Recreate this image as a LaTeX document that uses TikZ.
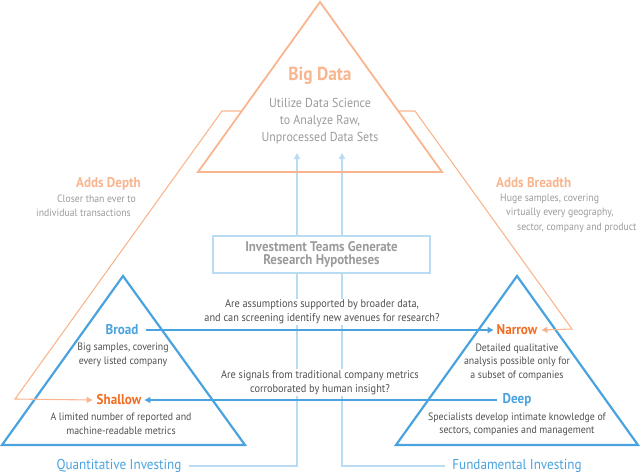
\documentclass[tikz,border=0pt]{standalone}
\usepackage{fontspec}
\setmainfont{PT Sans}[FakeStretch=0.92]
\usepackage{tikz}
\usetikzlibrary{arrows.meta}
\usepackage{xcolor}
\definecolor{peach}{HTML}{F9B58E}
\definecolor{hotorange}{HTML}{F26C22}
\definecolor{midblue}{HTML}{4AA3DF}
\definecolor{paleblue}{HTML}{B9DCF2}
\definecolor{softgray}{HTML}{9B9B9B}
\definecolor{darkgray}{HTML}{505050}

\begin{document}
\begin{tikzpicture}[x=1pt,y=-1pt,line join=miter,
  tip/.style={-{Triangle[length=6pt,width=6pt]}},
  title/.style={font=\fontsize{14.2}{16}\selectfont\bfseries,inner sep=1pt},
  desc/.style={font=\fontsize{10.7}{13.5}\selectfont,text=darkgray,align=center,inner sep=1pt},
  side/.style={font=\fontsize{10.6}{14}\selectfont,text=softgray,inner sep=0pt},
  question/.style={font=\fontsize{11.2}{14}\selectfont,text=darkgray,align=center,fill=white,inner sep=1pt}]
\useasboundingbox (0,0) rectangle (640,475);
% pale blue feed lines
\coordinate (qcorner) at (297,466);
\coordinate (qtip) at (297,153);
\coordinate (fcorner) at (342,466);
\coordinate (ftip) at (342,153);
\node[font=\fontsize{14.3}{16}\selectfont,text=midblue,inner sep=1pt] (quant) at (119,466) {Quantitative Investing};
\node[font=\fontsize{14.3}{16}\selectfont,text=midblue,inner sep=1pt] (fund) at (517,466) {Fundamental Investing};
\draw[paleblue,line width=1.4pt,tip] ([xshift=6pt]quant.east) -- (qcorner) -- (qtip);
\draw[paleblue,line width=1.4pt,tip] ([xshift=-6pt]fund.west) -- (fcorner) -- (ftip);
% big data triangle
\draw[peach,line width=1.8pt] (320,2) -- (198,172) -- (442,172) -- cycle;
\node[title,font=\fontsize{18.9}{20}\selectfont\bfseries,text=peach] (bigdata) at (320,76) {Big Data};
\node[font=\fontsize{13}{17}\selectfont,text=softgray,align=center] (bigdesc) at (320,121) {Utilize Data Science\\to Analyze Raw,\\Unprocessed Data Sets};
% research box and questions
\node[draw=paleblue,line width=1.4pt,fill=white,minimum width=217pt,minimum height=37pt,
  font=\fontsize{14}{13.5}\selectfont\bfseries,text=softgray,align=center] (hypo) at (321.5,254.5)
  {Investment Teams Generate\\Research Hypotheses};
\node[question] (qbroad) at (322,312) {Are assumptions supported by broader data,\\and can screening identify new avenues for research?};
\node[question] (qdeep) at (320,382.5) {Are signals from traditional company metrics\\corroborated by human insight?};
% quantitative triangle
\draw[midblue,line width=2.2pt] (123,276) -- (2,445) -- (245,445) -- cycle;
\node[title,text=midblue] (broad) at (122,330) {Broad};
\node[desc] (broaddesc) at (123,355) {Big samples, covering\\every listed company};
\node[title,text=hotorange] (shallow) at (119,400) {Shallow};
\node[desc] (shallowdesc) at (121,424) {A limited number of reported and\\machine-readable metrics};
% fundamental triangle
\draw[midblue,line width=2.2pt] (517,276) -- (396,445) -- (638,445) -- cycle;
\node[title,text=hotorange] (narrow) at (517,330) {Narrow};
\node[desc] (narrowdesc) at (517,362) {Detailed qualitative\\analysis possible only for\\a subset of companies};
\node[title,text=midblue] (deep) at (517,400) {Deep};
\node[desc] (deepdesc) at (517,424.5) {Specialists develop intimate knowledge of\\sectors, companies and management};
% questions between the two
\draw[midblue,line width=1.4pt,tip] ([xshift=6pt]broad.east) -- ([xshift=-2pt]narrow.west);
\draw[midblue,line width=1.4pt,tip] ([xshift=-4pt]deep.west) -- ([xshift=2pt]shallow.east);
% adds depth / breadth
\coordinate (dtop) at (242,111);
\coordinate (dknee) at (222,111);
\coordinate (dfoot) at (15,399);
\coordinate (btop) at (398,111);
\coordinate (bknee) at (415,111);
\coordinate (bfoot) at (572,329);
\draw[peach,line width=1.1pt,tip] (dtop) -- (dknee) -- (dfoot) -- ([xshift=-3pt]shallow.west);
\draw[peach,line width=1.1pt,tip] (btop) -- (bknee) -- (bfoot) -- ([xshift=3pt]narrow.east);
\node[title,text=peach,anchor=east] (depth) at (142,184) {Adds Depth};
\node[side,anchor=east] (depth1) at (136,199) {Closer than ever to};
\node[side,anchor=east] (depth2) at (131,213) {individual transactions};
\node[title,text=peach,anchor=west] (breadth) at (495,183) {Adds Breadth};
\node[side,anchor=west] (breadth1) at (500,199) {Huge samples, covering};
\node[side,anchor=west] (breadth2) at (506,213) {virtually every geography,};
\node[side,anchor=west] (breadth3) at (517,228) {sector, company and product};
\end{tikzpicture}
\end{document}
